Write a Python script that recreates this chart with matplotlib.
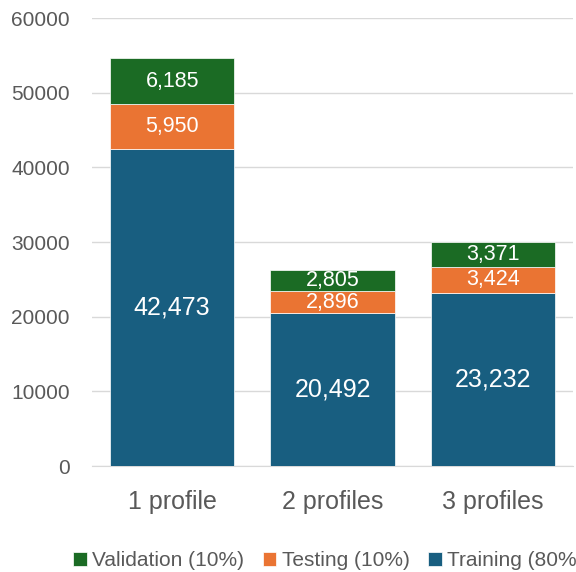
import matplotlib.pyplot as plt
import numpy as np

categories = ["1 profile", "2 profiles", "3 profiles"]
training = [42473, 20492, 23232]
testing = [5950, 2896, 3424]
validation = [6185, 2805, 3371]

c_train = "#185e80"
c_test = "#ea7433"
c_val = "#1b6b24"
gray = "#595959"

plt.rcParams['font.family'] = ['Liberation Sans', 'DejaVu Sans']

fig = plt.figure(figsize=(5.76, 5.72), dpi=100)
ax = fig.add_axes([92 / 576, 106 / 572, 481 / 576, 448 / 572])

x = np.arange(len(categories))
w = 0.775
train = np.array(training)
test = np.array(testing)
val = np.array(validation)

b1 = ax.bar(x, train, w, color=c_train, edgecolor="white", linewidth=0.5, label="Training (80%", zorder=3)
b2 = ax.bar(x, test, w, bottom=train, color=c_test, edgecolor="white", linewidth=0.5, label="Testing (10%)", zorder=3)
b3 = ax.bar(x, val, w, bottom=train + test, color=c_val, edgecolor="white", linewidth=0.5, label="Validation (10%)", zorder=3)

ax.bar_label(b1, labels=[f"{v:,}" for v in training], label_type="center", color="white", fontsize=18)
ax.bar_label(b2, labels=[f"{v:,}" for v in testing], label_type="center", color="white", fontsize=15.5)
ax.bar_label(b3, labels=[f"{v:,}" for v in validation], label_type="center", color="white", fontsize=15.5)

ax.set_xlim(-0.5, 2.5)
ax.set_ylim(0, 60000)
ax.set_yticks(range(0, 60001, 10000))
ax.set_xticks(x)
ax.set_xticklabels(categories, fontsize=18, color=gray)
ax.tick_params(axis="y", labelsize=15, colors=gray, length=0, pad=16)
ax.tick_params(axis="x", length=0, pad=17)
ax.grid(axis="y", color="#d9d9d9", linewidth=1, zorder=0)
for s in ["top", "right", "left"]:
    ax.spines[s].set_visible(False)
ax.spines["bottom"].set_color("#d9d9d9")

handles = [b3, b2, b1]
leg = fig.legend(handles, [h.get_label() for h in handles], loc="center left",
                 bbox_to_anchor=(65 / 576, 11 / 572), ncol=3, frameon=False,
                 fontsize=15, handlelength=0.65, handleheight=0.65,
                 handletextpad=0.25, columnspacing=0.9, borderaxespad=0)
for t in leg.get_texts():
    t.set_color(gray)

fig.savefig("out.png", dpi=100)
